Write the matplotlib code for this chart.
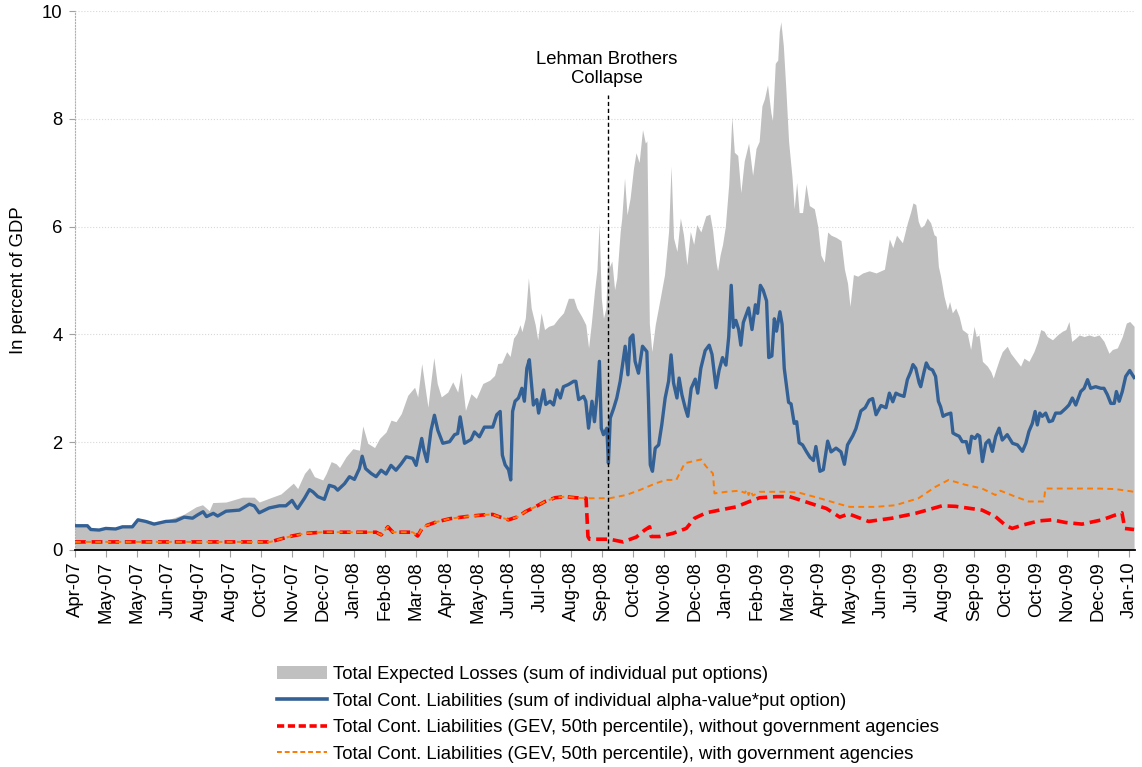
import matplotlib
matplotlib.use("Agg")
import matplotlib.pyplot as plt
from matplotlib.patches import Patch
from matplotlib.lines import Line2D

plt.rcParams['font.family'] = ['Liberation Sans', 'DejaVu Sans']

# x positions are in units of the axis label step (Apr-07 = 0, Jan-10 = 34)
tick_labels = ['Apr-07', 'May-07', 'May-07', 'Jun-07', 'Aug-07', 'Aug-07', 'Oct-07',
               'Nov-07', 'Dec-07', 'Jan-08', 'Feb-08', 'Mar-08', 'Apr-08', 'May-08',
               'Jun-08', 'Jul-08', 'Aug-08', 'Sep-08', 'Oct-08', 'Nov-08', 'Dec-08',
               'Jan-09', 'Feb-09', 'Mar-09', 'Apr-09', 'May-09', 'Jun-09', 'Jul-09',
               'Aug-09', 'Sep-09', 'Oct-09', 'Oct-09', 'Nov-09', 'Dec-09', 'Jan-10']

# total expected losses (grey area)
t_area = [0.0, 0.4, 0.55, 0.8, 1.0, 1.3, 1.55, 1.85, 2.03, 2.3, 2.55, 3.04, 3.5, 3.9,
          4.11, 4.33, 4.44, 4.87, 5.4, 5.78, 5.94, 6.26, 6.64, 7.04, 7.18, 7.4, 7.56,
          7.72, 7.99, 8.1, 8.26, 8.42, 8.53, 8.74, 8.96, 9.17, 9.28, 9.44, 9.66, 9.82,
          10.03, 10.19, 10.35, 10.52, 10.73, 10.95, 11.05, 11.18, 11.27, 11.38, 11.48,
          11.57, 11.68, 11.81, 12.02, 12.18, 12.34, 12.45, 12.59, 12.77, 12.94, 13.15,
          13.37, 13.53, 13.63, 13.76, 13.92, 14.03, 14.14, 14.25, 14.35, 14.41, 14.52,
          14.62, 14.71, 14.84, 14.92, 15.03, 15.14, 15.27, 15.43, 15.59, 15.75, 15.91,
          16.08, 16.18, 16.34, 16.47, 16.56, 16.65, 16.75, 16.83, 16.9, 16.97, 17.04,
          17.12, 17.18, 17.24, 17.31, 17.4, 17.47, 17.58, 17.63, 17.72, 17.8, 17.9,
          18.01, 18.09, 18.19, 18.3, 18.39, 18.44, 18.52, 18.6, 18.71, 18.87, 19.01,
          19.14, 19.22, 19.3, 19.41, 19.52, 19.62, 19.73, 19.84, 19.95, 20.05, 20.18,
          20.34, 20.47, 20.56, 20.67, 20.72, 20.8, 20.88, 20.97, 21.08, 21.18, 21.26,
          21.37, 21.47, 21.58, 21.72, 21.85, 21.96, 22.06, 22.15, 22.23, 22.33, 22.44,
          22.49, 22.58, 22.66, 22.71, 22.76, 22.84, 22.92, 23.01, 23.12, 23.19, 23.27,
          23.35, 23.46, 23.57, 23.68, 23.84, 23.95, 24.05, 24.16, 24.27, 24.38, 24.54,
          24.7, 24.81, 24.91, 24.99, 25.1, 25.24, 25.4, 25.61, 25.83, 26.1, 26.26,
          26.37, 26.49, 26.68, 26.84, 26.95, 27.02, 27.11, 27.19, 27.27, 27.38, 27.48,
          27.59, 27.7, 27.77, 27.84, 27.91, 28.02, 28.13, 28.2, 28.29, 28.4, 28.51,
          28.61, 28.77, 28.88, 28.99, 29.06, 29.15, 29.26, 29.42, 29.53, 29.61, 29.69,
          29.8, 29.9, 30.06, 30.17, 30.33, 30.49, 30.6, 30.76, 30.92, 31.03, 31.14,
          31.25, 31.35, 31.52, 31.68, 31.84, 31.95, 32.05, 32.14, 32.27, 32.38, 32.54,
          32.7, 32.86, 33.02, 33.18, 33.34, 33.45, 33.61, 33.77, 33.9, 34.01, 34.15]
expected_losses = [0.48, 0.47, 0.4, 0.39, 0.42, 0.41, 0.45, 0.46, 0.59, 0.56, 0.52, 0.57,
                   0.66, 0.8, 0.84, 0.73, 0.88, 0.89, 0.98, 0.98, 0.89, 0.96, 1.04, 1.24,
                   1.14, 1.42, 1.53, 1.36, 1.3, 1.42, 1.64, 1.6, 1.53, 1.73, 1.88, 1.85,
                   2.3, 1.98, 1.9, 2.07, 2.19, 2.41, 2.38, 2.53, 2.87, 3.02, 2.84, 3.46,
                   3.09, 2.65, 3.15, 3.57, 3.09, 2.84, 2.93, 3.12, 2.93, 3.3, 2.59, 2.9,
                   2.81, 3.09, 3.15, 3.24, 3.46, 3.47, 3.68, 3.59, 3.93, 4.02, 4.18, 4.05,
                   4.3, 5.05, 4.49, 4.18, 3.9, 4.4, 4.09, 4.15, 4.18, 4.3, 4.4, 4.67, 4.67,
                   4.49, 4.33, 4.18, 3.75, 4.21, 4.8, 5.2, 6.07, 4.67, 4.3, 4.49, 5.54,
                   5.26, 5.36, 4.83, 5.05, 5.91, 6.16, 6.9, 6.22, 6.53, 7.09, 7.37, 7.19,
                   7.8, 7.55, 7.59, 4.2, 3.68, 4.18, 4.67, 5.11, 5.91, 7.12, 5.79, 5.54,
                   6.16, 5.85, 5.29, 5.91, 5.67, 6.04, 5.9, 6.2, 6.23, 5.93, 5.34, 5.18,
                   5.47, 5.67, 6.0, 6.79, 8.04, 7.38, 7.32, 6.63, 7.22, 7.55, 6.95, 7.45,
                   7.58, 8.24, 8.37, 8.63, 8.11, 7.97, 9.03, 9.09, 9.62, 9.8, 9.36, 8.57,
                   7.58, 6.92, 6.33, 6.82, 6.26, 6.26, 6.79, 6.39, 6.33, 6.0, 5.47, 5.34,
                   5.9, 5.84, 5.8, 5.74, 5.21, 4.95, 4.52, 5.11, 5.08, 5.14, 5.18, 5.14,
                   5.21, 5.77, 5.61, 5.84, 5.7, 6.07, 6.28, 6.44, 6.41, 6.1, 5.98, 6.03,
                   6.16, 6.07, 5.85, 5.82, 5.26, 5.08, 4.71, 4.46, 4.61, 4.4, 4.49, 4.33,
                   4.09, 4.02, 3.72, 4.15, 3.96, 3.99, 3.5, 3.41, 3.31, 3.19, 3.34, 3.53,
                   3.68, 3.78, 3.65, 3.53, 3.41, 3.56, 3.5, 3.68, 3.85, 4.09, 4.06, 3.96,
                   3.9, 3.99, 4.06, 4.09, 4.24, 3.87, 3.93, 3.99, 3.96, 3.99, 3.96, 3.99,
                   3.87, 3.65, 3.72, 3.75, 3.96, 4.21, 4.24, 4.15]

# sum of individual alpha-value * put option (blue)
t_alpha = [0.0, 0.4, 0.51, 0.78, 0.99, 1.31, 1.53, 1.85, 2.03, 2.28, 2.55, 2.93, 3.25,
           3.52, 3.79, 3.95, 4.13, 4.24, 4.46, 4.6, 4.87, 5.3, 5.62, 5.78, 5.94, 6.26,
           6.59, 6.8, 7.0, 7.13, 7.18, 7.4, 7.56, 7.67, 7.83, 8.04, 8.2, 8.37, 8.47,
           8.69, 8.85, 9.01, 9.17, 9.26, 9.37, 9.55, 9.71, 9.87, 10.03, 10.19, 10.35,
           10.52, 10.68, 10.89, 11.0, 11.18, 11.25, 11.35, 11.48, 11.59, 11.7, 11.86,
           12.08, 12.24, 12.34, 12.42, 12.56, 12.77, 12.88, 13.04, 13.2, 13.47, 13.6,
           13.71, 13.78, 13.87, 13.98, 14.05, 14.11, 14.19, 14.3, 14.41, 14.49, 14.57,
           14.65, 14.78, 14.89, 14.95, 15.11, 15.18, 15.32, 15.43, 15.54, 15.65, 15.75,
           15.91, 16.08, 16.15, 16.24, 16.4, 16.47, 16.56, 16.67, 16.75, 16.83, 16.91,
           16.97, 17.04, 17.15, 17.2, 17.26, 17.37, 17.47, 17.58, 17.74, 17.83, 17.9,
           17.99, 18.06, 18.17, 18.3, 18.44, 18.49, 18.55, 18.62, 18.71, 18.82, 18.92,
           19.03, 19.14, 19.22, 19.3, 19.41, 19.48, 19.57, 19.68, 19.76, 19.87, 20.0,
           20.08, 20.18, 20.32, 20.45, 20.54, 20.67, 20.77, 20.88, 20.99, 21.08, 21.16,
           21.23, 21.31, 21.4, 21.47, 21.55, 21.72, 21.83, 21.94, 22.01, 22.1, 22.19,
           22.3, 22.37, 22.47, 22.55, 22.62, 22.73, 22.8, 22.87, 23.01, 23.09, 23.19,
           23.27, 23.35, 23.46, 23.59, 23.7, 23.81, 23.89, 24.02, 24.13, 24.27, 24.38,
           24.54, 24.7, 24.81, 24.91, 25.08, 25.18, 25.34, 25.48, 25.61, 25.72, 25.83,
           25.99, 26.15, 26.26, 26.37, 26.47, 26.57, 26.73, 26.84, 26.95, 27.02, 27.11,
           27.22, 27.27, 27.38, 27.45, 27.54, 27.65, 27.75, 27.84, 27.91, 27.99, 28.08,
           28.24, 28.31, 28.4, 28.51, 28.61, 28.74, 28.83, 28.91, 29.02, 29.1, 29.17,
           29.26, 29.37, 29.47, 29.58, 29.69, 29.8, 29.9, 30.06, 30.23, 30.39, 30.55,
           30.66, 30.76, 30.87, 30.96, 31.03, 31.11, 31.19, 31.3, 31.41, 31.52, 31.62,
           31.78, 31.95, 32.05, 32.16, 32.27, 32.43, 32.54, 32.65, 32.75, 32.91, 33.08,
           33.18, 33.29, 33.4, 33.51, 33.58, 33.67, 33.77, 33.88, 34.01, 34.15]
cont_liab_alpha = [0.45, 0.45, 0.38, 0.37, 0.4, 0.39, 0.43, 0.43, 0.56, 0.53, 0.48, 0.53,
                   0.54, 0.61, 0.59, 0.65, 0.71, 0.62, 0.68, 0.63, 0.72, 0.74, 0.85,
                   0.82, 0.69, 0.78, 0.82, 0.82, 0.92, 0.8, 0.77, 0.96, 1.12, 1.08, 0.99,
                   0.94, 1.2, 1.17, 1.11, 1.23, 1.36, 1.31, 1.51, 1.74, 1.51, 1.42, 1.36,
                   1.48, 1.41, 1.57, 1.48, 1.6, 1.73, 1.7, 1.57, 2.07, 1.85, 1.64, 2.22,
                   2.5, 2.22, 1.98, 2.01, 2.14, 2.16, 2.47, 1.98, 2.05, 2.19, 2.1, 2.28,
                   2.28, 2.51, 2.57, 1.76, 1.58, 1.49, 1.3, 2.57, 2.76, 2.82, 3.0, 2.76,
                   3.37, 3.53, 2.69, 2.79, 2.54, 2.97, 2.7, 2.76, 2.69, 2.97, 2.82, 3.03,
                   3.07, 3.13, 3.13, 2.79, 2.85, 2.76, 2.26, 2.76, 2.38, 2.85, 3.5, 2.26,
                   2.14, 2.26, 1.61, 2.45, 2.63, 2.82, 3.13, 3.78, 3.25, 3.93, 3.99, 3.5,
                   3.28, 3.78, 3.68, 2.82, 1.58, 1.46, 1.89, 1.95, 2.32, 2.82, 3.13, 3.62,
                   3.1, 2.82, 3.19, 2.88, 2.63, 2.48, 3.0, 3.17, 2.91, 3.37, 3.7, 3.8,
                   3.63, 3.01, 3.34, 3.57, 3.43, 3.96, 4.91, 4.13, 4.26, 4.09, 3.8, 4.22,
                   4.49, 4.09, 4.55, 4.39, 4.91, 4.82, 4.62, 3.57, 3.6, 4.29, 4.06, 4.42,
                   4.19, 3.37, 2.74, 2.71, 2.35, 2.38, 1.99, 1.95, 1.82, 1.72, 1.66, 1.92,
                   1.46, 1.49, 2.02, 1.82, 1.89, 1.82, 1.59, 1.95, 2.12, 2.25, 2.58, 2.64,
                   2.78, 2.81, 2.51, 2.68, 2.64, 2.91, 2.75, 2.91, 2.88, 2.85, 3.16, 3.31,
                   3.44, 3.37, 3.1, 3.03, 3.31, 3.47, 3.37, 3.34, 3.22, 2.76, 2.66, 2.48,
                   2.51, 2.54, 2.17, 2.14, 2.11, 2.01, 2.01, 1.8, 2.11, 2.07, 2.14, 2.11,
                   1.64, 1.98, 2.04, 1.83, 2.11, 2.26, 2.04, 2.14, 1.98, 1.95, 1.83, 1.98,
                   2.2, 2.35, 2.57, 2.32, 2.54, 2.48, 2.54, 2.38, 2.4, 2.54, 2.54, 2.63,
                   2.69, 2.82, 2.69, 2.94, 3.0, 3.16, 3.0, 3.03, 3.0, 3.0, 2.88, 2.72,
                   2.72, 2.94, 2.76, 2.94, 3.22, 3.33, 3.2]

# GEV 50th percentile, without government agencies (red)
t_gev_ex = [0.0, 6.3, 6.6, 7.0, 7.45, 8.0, 8.85, 9.71, 9.87, 10.09, 10.25, 10.89, 11.05,
            11.22, 11.65, 12.08, 12.61, 13.15, 13.47, 13.66, 13.98, 14.3, 14.52, 14.84,
            15.16, 15.48, 15.81, 16.13, 16.48, 16.54, 16.59, 17.24, 17.67, 18.1, 18.37,
            18.53, 18.58, 18.85, 19.28, 19.71, 19.98, 20.35, 20.78, 21.32, 21.75, 22.08,
            22.61, 23.04, 23.37, 23.9, 24.23, 24.66, 24.95, 25.59, 26.34, 27.1, 27.96,
            28.39, 29.25, 29.68, 30.0, 30.22, 30.54, 31.08, 31.51, 31.94, 32.47, 33.12,
            33.55, 33.76, 33.85, 34.15]
gev_ex_agencies = [0.15, 0.15, 0.2, 0.26, 0.31, 0.33, 0.33, 0.33, 0.28, 0.43, 0.33, 0.33,
                   0.26, 0.43, 0.52, 0.58, 0.62, 0.65, 0.66, 0.62, 0.56, 0.62, 0.71, 0.8,
                   0.9, 0.97, 0.99, 0.97, 0.96, 0.25, 0.2, 0.2, 0.15, 0.24, 0.37, 0.43,
                   0.25, 0.25, 0.31, 0.4, 0.59, 0.69, 0.74, 0.8, 0.9, 0.97, 0.99, 0.99,
                   0.93, 0.83, 0.77, 0.61, 0.67, 0.53, 0.59, 0.68, 0.82, 0.81, 0.74, 0.62,
                   0.46, 0.4, 0.46, 0.54, 0.56, 0.51, 0.48, 0.56, 0.65, 0.69, 0.4, 0.38]

# GEV 50th percentile, with government agencies (orange)
t_gev_in = [0.0, 6.3, 6.6, 7.0, 7.45, 8.0, 8.85, 9.71, 9.87, 10.09, 10.25, 10.89, 11.05,
            11.22, 11.65, 12.08, 12.61, 13.15, 13.47, 13.66, 13.98, 14.3, 14.52, 14.84,
            15.16, 15.48, 15.81, 16.13, 16.48, 17.24, 17.77, 18.2, 18.74, 19.06, 19.39,
            19.66, 20.19, 20.35, 20.57, 20.62, 21.0, 21.43, 21.6, 21.66, 21.72, 21.78,
            21.86, 22.08, 22.94, 23.37, 24.01, 24.66, 24.98, 25.81, 26.45, 27.2, 27.74,
            28.17, 28.71, 29.25, 29.68, 29.84, 30.32, 30.75, 31.24, 31.29, 33.01, 33.55,
            34.15]
gev_in_agencies = [0.15, 0.15, 0.2, 0.26, 0.31, 0.33, 0.33, 0.33, 0.28, 0.43, 0.33, 0.33,
                   0.26, 0.43, 0.52, 0.58, 0.62, 0.65, 0.66, 0.62, 0.56, 0.62, 0.71, 0.8,
                   0.9, 0.97, 0.99, 0.97, 0.96, 0.96, 1.02, 1.11, 1.24, 1.3, 1.3, 1.61,
                   1.68, 1.55, 1.42, 1.05, 1.08, 1.1, 1.06, 1.12, 1.02, 1.1, 1.01, 1.08,
                   1.08, 1.06, 0.96, 0.85, 0.8, 0.8, 0.83, 0.96, 1.17, 1.3, 1.21, 1.14,
                   1.02, 1.1, 0.99, 0.9, 0.9, 1.14, 1.14, 1.13, 1.08]

lehman_t = 17.2
fs = 13.3

fig = plt.figure(figsize=(11.42, 7.67), dpi=100)
ax = fig.add_axes([75 / 1142, 1 - 550 / 767, 1060 / 1142, 539 / 767])

ax.fill_between(t_area, 0, expected_losses, color='#C0C0C0', lw=0, zorder=1)
ax.plot(t_alpha, cont_liab_alpha, color='#336195', lw=2.4, zorder=3)
ax.plot(t_gev_ex, gev_ex_agencies, color='#FF0000', lw=2.6, dashes=(3, 1.6), zorder=4)
ax.plot(t_gev_in, gev_in_agencies, color='#FF7A00', lw=1.4, dashes=(3, 2.2), zorder=5)

ax.plot([lehman_t, lehman_t], [0, 8.45], color='black', lw=1, dashes=(3, 2), zorder=6)
ax.text(lehman_t - 0.05, 8.92, 'Lehman Brothers\nCollapse', ha='center', va='center',
        fontsize=fs, linespacing=1.15)

ax.set_xlim(0, 34.18)
ax.set_ylim(0, 10)
ax.set_yticks(range(0, 11, 2))
ax.set_xticks(range(len(tick_labels)))
ax.set_xticklabels(tick_labels, rotation=90, fontsize=fs)
ax.tick_params(axis='y', labelsize=fs, length=4, color='#A0A0A0', pad=5)
ax.tick_params(axis='x', length=5, color='#A0A0A0', pad=3)
ax.yaxis.grid(True, color='#D8D8D8', lw=0.8, ls=':')
ax.set_axisbelow(True)

for s in ['top', 'right']:
    ax.spines[s].set_visible(False)
ax.spines['left'].set_color('#B0B0B0')
ax.spines['left'].set_linestyle(':')
ax.spines['bottom'].set_color('black')
ax.spines['bottom'].set_linewidth(1.3)

ax.set_ylabel('In percent of GDP', fontsize=fs)
ax.yaxis.set_label_coords(-0.045, 0.5)

handles = [Patch(color='#C0C0C0', lw=0),
           Line2D([], [], color='#336195', lw=2.6),
           Line2D([], [], color='#FF0000', lw=2.6, dashes=(2, 1)),
           Line2D([], [], color='#FF7A00', lw=1.4, dashes=(2.5, 1.5))]
labels = ['Total Expected Losses (sum of individual put options)',
          'Total Cont. Liabilities (sum of individual alpha-value*put option)',
          'Total Cont. Liabilities (GEV, 50th percentile), without government agencies',
          'Total Cont. Liabilities (GEV, 50th percentile), with government agencies']
fig.legend(handles, labels, loc='upper left', bbox_to_anchor=(277 / 1142, 1 - 666 / 767),
           frameon=False, fontsize=fs, handlelength=2.7, handletextpad=0.32,
           labelspacing=0.52, borderpad=0, borderaxespad=0)

fig.savefig('out.png', dpi=100)
